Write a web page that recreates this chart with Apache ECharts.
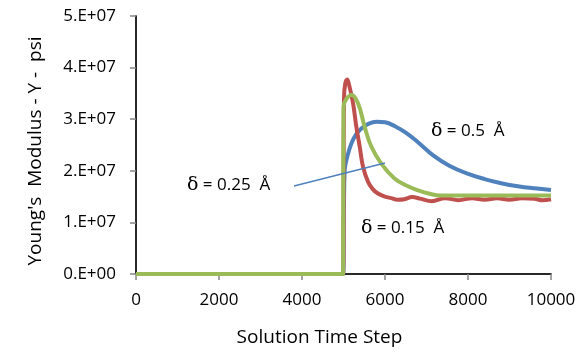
<!DOCTYPE html>
<html>
<head>
<meta charset="utf-8">
<script src="https://cdn.jsdelivr.net/npm/echarts@6/dist/echarts.min.js"></script>
<style>
  html, body { margin: 0; padding: 0; background: #fff; }
  #chart { width: 579px; height: 352px; }
</style>
</head>
<body>
<div id="chart"></div>
<script>
// δ = 0.5 Å
const blueData = [
  [0, 0], [4990, 0], [5010, 1.2e7], [5030, 2.02e7], [5100, 2.3e7], [5190, 2.53e7],
  [5300, 2.7e7], [5430, 2.82e7], [5600, 2.91e7], [5800, 2.95e7], [6000, 2.94e7],
  [6250, 2.86e7], [6500, 2.74e7], [6800, 2.55e7], [7160, 2.3e7], [7550, 2.1e7],
  [7970, 1.95e7], [8400, 1.84e7], [8800, 1.76e7], [9200, 1.7e7],
  [9600, 1.66e7], [10000, 1.63e7]
];
// δ = 0.15 Å
const redData = [
  [0, 0], [4990, 0], [5012, 3.4e7], [5040, 3.68e7], [5090, 3.77e7], [5130, 3.68e7],
  [5229, 3.31e7], [5310, 2.85e7], [5390, 2.47e7], [5470, 2.08e7], [5590, 1.79e7],
  [5700, 1.65e7], [5830, 1.56e7], [6000, 1.5e7], [6150, 1.47e7], [6300, 1.44e7],
  [6470, 1.45e7], [6650, 1.49e7], [6850, 1.46e7], [7125, 1.41e7], [7450, 1.47e7],
  [7770, 1.43e7], [8100, 1.47e7], [8400, 1.44e7], [8700, 1.47e7], [9000, 1.44e7],
  [9300, 1.47e7], [9600, 1.46e7], [9800, 1.43e7], [10000, 1.45e7]
];
// δ = 0.25 Å
const greenData = [
  [0, 0], [4990, 0], [5000, 3.24e7], [5060, 3.38e7], [5190, 3.47e7], [5350, 3.31e7],
  [5510, 2.85e7], [5670, 2.47e7], [5910, 2.14e7], [6230, 1.85e7], [6500, 1.72e7],
  [6800, 1.62e7], [7050, 1.56e7], [7330, 1.52e7], [8000, 1.52e7], [9000, 1.52e7],
  [10000, 1.52e7]
];
const pointerLine = [[3807, 1.705e7], [6000, 2.15e7]];
const notes = [
  { text: '0.25', coord: [1229, 1.72e7] },
  { text: '0.5', coord: [7108, 2.77e7] },
  { text: '0.15', coord: [5422, 0.89e7] }
];

const font = '"Open Sans", sans-serif';
const axisGray = '#868686';

const chart = echarts.init(document.getElementById('chart'));

function lineSeries(data, color, z) {
  return {
    type: 'line', data, smooth: 0.4, showSymbol: false, z,
    lineStyle: { color, width: 4 }, itemStyle: { color }
  };
}

const blue = lineSeries(blueData, '#4F81BD', 2);
blue.markLine = {
  silent: true, symbol: 'none', label: { show: false },
  lineStyle: { color: '#4F81BD', width: 1.5, type: 'solid' },
  data: [[{ coord: pointerLine[0] }, { coord: pointerLine[1] }]]
};
blue.markPoint = {
  silent: true, symbol: 'circle', symbolSize: 0,
  label: {
    show: true, position: 'right', distance: 0,
    fontFamily: font, fontSize: 17, color: '#000',
    formatter: p => '{d|δ}{t| = ' + p.data.name + '  Å}',
    rich: {
      d: { fontFamily: '"DejaVu Serif", serif', fontSize: 19, color: '#000' },
      t: { fontFamily: font, fontSize: 17, color: '#000' }
    }
  },
  data: notes.map(n => ({ name: n.text, coord: n.coord }))
};

chart.setOption({
  animation: false,
  grid: { left: 136, right: 28, top: 16, bottom: 78 },
  xAxis: [{
    type: 'value', min: 0, max: 10000, interval: 2000,
    name: 'Solution Time Step', nameLocation: 'middle', nameGap: 54,
    nameTextStyle: { fontFamily: font, fontSize: 19, color: '#000', padding: [0, 48, 0, 0] },
    axisLine: { show: true, onZero: false, lineStyle: { color: axisGray, width: 1.5 } },
    axisTick: { show: true, length: 6, lineStyle: { color: axisGray, width: 1.5 } },
    axisLabel: { fontFamily: font, fontSize: 17, color: '#000', margin: 18, formatter: v => String(v) },
    splitLine: { show: false }
  }, {
    type: 'value', position: 'top', min: 0, max: 10000,
    axisLine: { show: true, lineStyle: { color: '#000', width: 1.5 } },
    axisTick: { show: false }, axisLabel: { show: false }, splitLine: { show: false }
  }],
  yAxis: [{
    type: 'value', min: 0, max: 5e7, interval: 1e7,
    name: "Young's  Modulus - Y -  psi", nameLocation: 'middle', nameGap: 91,
    nameTextStyle: { fontFamily: font, fontSize: 19, color: '#000', padding: [0, 12, 0, 0] },
    axisLine: { show: true, lineStyle: { color: axisGray, width: 1.5 } },
    axisTick: { show: true, length: 6, lineStyle: { color: axisGray, width: 1.5 } },
    axisLabel: {
      fontFamily: font, fontSize: 17, color: '#000', margin: 20,
      formatter: v => (v / 1e7).toFixed(0) + '.E+' + (v === 0 ? '00' : '07')
    },
    splitLine: { show: false }
  }, {
    type: 'value', position: 'right', min: 0, max: 5e7,
    axisLine: { show: true, lineStyle: { color: '#000', width: 1.5 } },
    axisTick: { show: false }, axisLabel: { show: false }, splitLine: { show: false }
  }],
  series: [
    blue,
    lineSeries(redData, '#C0504D', 3),
    lineSeries(greenData, '#9BBB59', 4)
  ]
});
</script>
</body>
</html>
